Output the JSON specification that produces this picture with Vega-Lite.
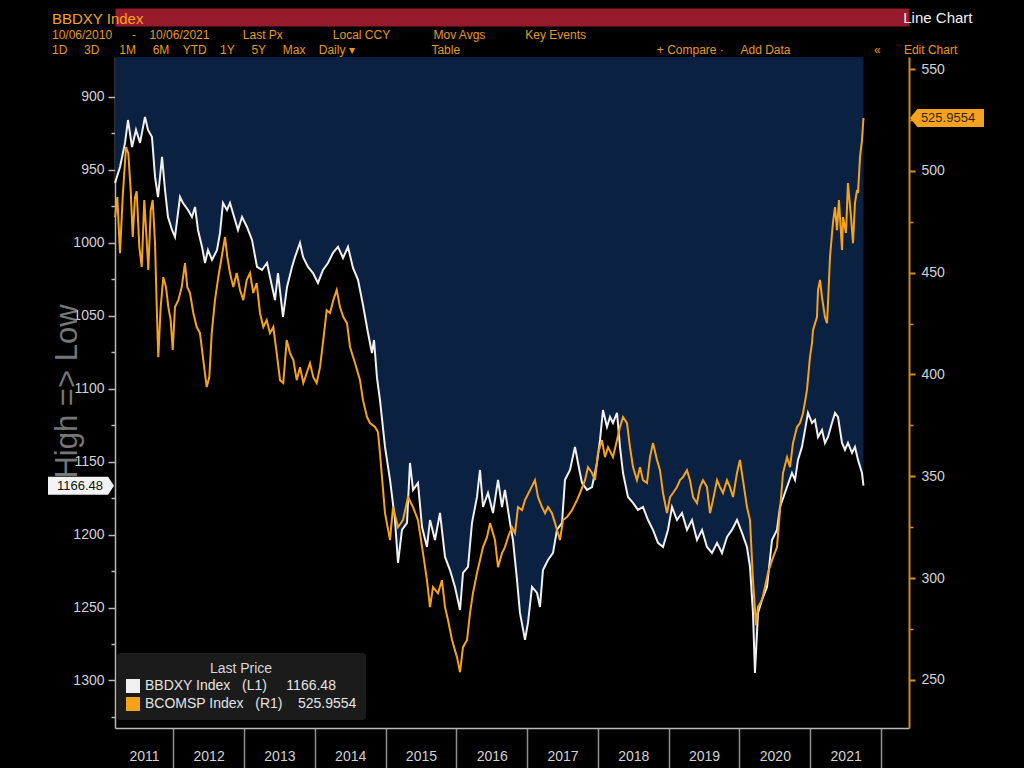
{
  "$schema": "https://vega.github.io/schema/vega-lite/v6.json",
  "width": 794,
  "height": 671,
  "autosize": {"type": "none"},
  "padding": {"left": 115, "top": 57, "right": 115, "bottom": 40},
  "background": "#000000",
  "title": {
    "text": "BBDXY Index",
    "subtitle": [
      "10/06/2010\u00a0\u00a0\u00a0\u00a0\u00a0\u00a0-\u00a0\u00a0\u00a0\u00a010/06/2021\u00a0\u00a0\u00a0\u00a0\u00a0\u00a0\u00a0\u00a0\u00a0\u00a0Last Px\u00a0\u00a0\u00a0\u00a0\u00a0\u00a0\u00a0\u00a0\u00a0\u00a0\u00a0\u00a0\u00a0\u00a0\u00a0Local CCY\u00a0\u00a0\u00a0\u00a0\u00a0\u00a0\u00a0\u00a0\u00a0\u00a0\u00a0\u00a0\u00a0Mov Avgs\u00a0\u00a0\u00a0\u00a0\u00a0\u00a0\u00a0\u00a0\u00a0\u00a0\u00a0\u00a0Key Events",
      "\u00a0\u00a01D\u00a0\u00a0\u00a0\u00a0\u00a03D\u00a0\u00a0\u00a0\u00a0\u00a0\u00a01M\u00a0\u00a0\u00a0\u00a0\u00a06M\u00a0\u00a0\u00a0\u00a0YTD\u00a0\u00a0\u00a0\u00a01Y\u00a0\u00a0\u00a0\u00a0\u00a05Y\u00a0\u00a0\u00a0\u00a0\u00a0Max\u00a0\u00a0\u00a0\u00a0Daily \u25be\u00a0\u00a0\u00a0\u00a0\u00a0\u00a0\u00a0\u00a0\u00a0\u00a0\u00a0\u00a0\u00a0\u00a0\u00a0\u00a0\u00a0\u00a0\u00a0\u00a0\u00a0\u00a0\u00a0Table\u00a0\u00a0\u00a0\u00a0\u00a0\u00a0\u00a0\u00a0\u00a0\u00a0\u00a0\u00a0\u00a0\u00a0\u00a0\u00a0\u00a0\u00a0\u00a0\u00a0\u00a0\u00a0\u00a0\u00a0\u00a0\u00a0\u00a0\u00a0\u00a0\u00a0\u00a0\u00a0\u00a0\u00a0\u00a0\u00a0\u00a0\u00a0\u00a0\u00a0\u00a0\u00a0\u00a0\u00a0\u00a0\u00a0\u00a0\u00a0\u00a0\u00a0\u00a0\u00a0\u00a0\u00a0\u00a0\u00a0\u00a0\u00a0\u00a0+ Compare \u00b7\u00a0\u00a0\u00a0\u00a0\u00a0Add Data\u00a0\u00a0\u00a0\u00a0\u00a0\u00a0\u00a0\u00a0\u00a0\u00a0\u00a0\u00a0\u00a0\u00a0\u00a0\u00a0\u00a0\u00a0\u00a0\u00a0\u00a0\u00a0\u00a0\u00a0\u00a0\u00ab\u00a0\u00a0\u00a0\u00a0\u00a0\u00a0\u00a0Edit Chart"
    ],
    "anchor": "start",
    "frame": "group",
    "dx": -63,
    "offset": -46,
    "zindex": 1,
    "font": "Liberation Sans",
    "fontSize": 15,
    "fontWeight": "normal",
    "color": "#f5a31e",
    "subtitleFont": "Liberation Sans",
    "subtitleFontSize": 12,
    "subtitleColor": "#e39a26",
    "subtitleLineHeight": 15,
    "subtitlePadding": 3
  },
  "config": {
    "view": {"stroke": null},
    "font": "Liberation Sans",
    "axis": {"labelFont": "Liberation Sans", "titleFont": "Liberation Sans", "grid": false}
  },
  "datasets": {
    "bbdxy": [
      {"year":2011.178,"bbdxy":958.9},{"year":2011.248,"bbdxy":948.0},{"year":2011.319,"bbdxy":931.5},{"year":2011.361,"bbdxy":915.8},
      {"year":2011.418,"bbdxy":934.3},{"year":2011.474,"bbdxy":922.6},{"year":2011.531,"bbdxy":931.5},{"year":2011.601,"bbdxy":913.7},
      {"year":2011.644,"bbdxy":922.6},{"year":2011.700,"bbdxy":927.4},{"year":2011.743,"bbdxy":954.8},{"year":2011.785,"bbdxy":968.6},
      {"year":2011.842,"bbdxy":941.1},{"year":2011.884,"bbdxy":963.8},{"year":2011.926,"bbdxy":982.3},{"year":2011.983,"bbdxy":991.2},
      {"year":2012.025,"bbdxy":996.0},{"year":2012.096,"bbdxy":968.6},{"year":2012.138,"bbdxy":972.7},{"year":2012.209,"bbdxy":977.5},
      {"year":2012.265,"bbdxy":982.3},{"year":2012.308,"bbdxy":975.4},{"year":2012.350,"bbdxy":991.2},{"year":2012.407,"bbdxy":1002.8},
      {"year":2012.449,"bbdxy":1013.8},{"year":2012.491,"bbdxy":1004.9},{"year":2012.548,"bbdxy":1011.7},{"year":2012.619,"bbdxy":1004.9},
      {"year":2012.661,"bbdxy":993.2},{"year":2012.703,"bbdxy":972.7},{"year":2012.760,"bbdxy":977.5},{"year":2012.802,"bbdxy":972.7},
      {"year":2012.873,"bbdxy":984.3},{"year":2012.915,"bbdxy":991.2},{"year":2012.972,"bbdxy":982.3},{"year":2013.042,"bbdxy":989.1},
      {"year":2013.113,"bbdxy":998.0},{"year":2013.184,"bbdxy":1016.5},{"year":2013.254,"bbdxy":1018.6},{"year":2013.325,"bbdxy":1013.8},
      {"year":2013.367,"bbdxy":1023.4},{"year":2013.438,"bbdxy":1039.2},{"year":2013.480,"bbdxy":1020.7},{"year":2013.551,"bbdxy":1050.8},
      {"year":2013.608,"bbdxy":1030.2},{"year":2013.678,"bbdxy":1016.5},{"year":2013.721,"bbdxy":1009.7},{"year":2013.791,"bbdxy":1000.1},
      {"year":2013.834,"bbdxy":1009.7},{"year":2013.904,"bbdxy":1016.5},{"year":2013.975,"bbdxy":1020.7},{"year":2014.045,"bbdxy":1027.5},
      {"year":2014.116,"bbdxy":1018.6},{"year":2014.187,"bbdxy":1013.8},{"year":2014.257,"bbdxy":1006.9},{"year":2014.328,"bbdxy":1002.8},
      {"year":2014.399,"bbdxy":1010.4},{"year":2014.469,"bbdxy":1002.8},{"year":2014.540,"bbdxy":1017.2},{"year":2014.611,"bbdxy":1025.4},
      {"year":2014.681,"bbdxy":1042.6},{"year":2014.752,"bbdxy":1061.8},{"year":2014.808,"bbdxy":1075.5},{"year":2014.837,"bbdxy":1066.6},
      {"year":2014.879,"bbdxy":1092.6},{"year":2014.921,"bbdxy":1107.7},{"year":2014.992,"bbdxy":1139.9},{"year":2015.063,"bbdxy":1162.5},
      {"year":2015.133,"bbdxy":1190.0},{"year":2015.176,"bbdxy":1219.4},{"year":2015.232,"bbdxy":1196.8},{"year":2015.303,"bbdxy":1192.0},
      {"year":2015.345,"bbdxy":1150.9},{"year":2015.388,"bbdxy":1169.4},{"year":2015.458,"bbdxy":1164.6},{"year":2015.515,"bbdxy":1194.8},
      {"year":2015.585,"bbdxy":1208.5},{"year":2015.628,"bbdxy":1190.0},{"year":2015.698,"bbdxy":1203.7},{"year":2015.769,"bbdxy":1185.2},
      {"year":2015.840,"bbdxy":1215.3},{"year":2015.910,"bbdxy":1224.3},{"year":2015.981,"bbdxy":1235.9},{"year":2016.052,"bbdxy":1251.7},
      {"year":2016.094,"bbdxy":1226.3},{"year":2016.165,"bbdxy":1222.2},{"year":2016.221,"bbdxy":1192.0},{"year":2016.292,"bbdxy":1174.2},
      {"year":2016.334,"bbdxy":1155.7},{"year":2016.377,"bbdxy":1181.1},{"year":2016.447,"bbdxy":1171.5},{"year":2016.518,"bbdxy":1185.2},
      {"year":2016.589,"bbdxy":1162.5},{"year":2016.645,"bbdxy":1181.1},{"year":2016.687,"bbdxy":1169.4},{"year":2016.758,"bbdxy":1192.0},
      {"year":2016.800,"bbdxy":1203.7},{"year":2016.857,"bbdxy":1231.1},{"year":2016.899,"bbdxy":1253.7},{"year":2016.970,"bbdxy":1272.2},
      {"year":2017.012,"bbdxy":1260.6},{"year":2017.069,"bbdxy":1235.9},{"year":2017.140,"bbdxy":1240.0},{"year":2017.182,"bbdxy":1249.6},
      {"year":2017.224,"bbdxy":1224.3},{"year":2017.295,"bbdxy":1217.4},{"year":2017.366,"bbdxy":1212.6},{"year":2017.422,"bbdxy":1196.8},
      {"year":2017.493,"bbdxy":1192.0},{"year":2017.535,"bbdxy":1162.5},{"year":2017.606,"bbdxy":1155.7},{"year":2017.676,"bbdxy":1139.9},
      {"year":2017.719,"bbdxy":1150.9},{"year":2017.775,"bbdxy":1164.6},{"year":2017.846,"bbdxy":1169.4},{"year":2017.917,"bbdxy":1167.4},
      {"year":2017.987,"bbdxy":1150.9},{"year":2018.030,"bbdxy":1135.1},{"year":2018.072,"bbdxy":1114.6},{"year":2018.128,"bbdxy":1126.2},
      {"year":2018.171,"bbdxy":1119.4},{"year":2018.213,"bbdxy":1123.5},{"year":2018.270,"bbdxy":1116.6},{"year":2018.312,"bbdxy":1139.9},
      {"year":2018.355,"bbdxy":1157.8},{"year":2018.425,"bbdxy":1174.2},{"year":2018.496,"bbdxy":1178.3},{"year":2018.566,"bbdxy":1183.1},
      {"year":2018.637,"bbdxy":1181.1},{"year":2018.708,"bbdxy":1190.0},{"year":2018.778,"bbdxy":1196.8},{"year":2018.849,"bbdxy":1205.7},
      {"year":2018.920,"bbdxy":1208.5},{"year":2018.990,"bbdxy":1196.8},{"year":2019.047,"bbdxy":1181.1},{"year":2019.117,"bbdxy":1190.0},
      {"year":2019.188,"bbdxy":1185.2},{"year":2019.259,"bbdxy":1196.8},{"year":2019.329,"bbdxy":1190.0},{"year":2019.400,"bbdxy":1203.7},
      {"year":2019.471,"bbdxy":1196.8},{"year":2019.541,"bbdxy":1208.5},{"year":2019.612,"bbdxy":1212.6},{"year":2019.683,"bbdxy":1205.7},
      {"year":2019.753,"bbdxy":1212.6},{"year":2019.824,"bbdxy":1201.6},{"year":2019.894,"bbdxy":1196.8},{"year":2019.965,"bbdxy":1190.0},
      {"year":2020.036,"bbdxy":1198.9},{"year":2020.106,"bbdxy":1208.5},{"year":2020.149,"bbdxy":1222.2},{"year":2020.191,"bbdxy":1253.7},
      {"year":2020.219,"bbdxy":1294.9},{"year":2020.262,"bbdxy":1253.7},{"year":2020.318,"bbdxy":1244.8},{"year":2020.389,"bbdxy":1235.9},
      {"year":2020.460,"bbdxy":1203.7},{"year":2020.530,"bbdxy":1196.8},{"year":2020.573,"bbdxy":1181.1},{"year":2020.672,"bbdxy":1167.4},
      {"year":2020.742,"bbdxy":1157.8},{"year":2020.785,"bbdxy":1162.5},{"year":2020.827,"bbdxy":1148.8},{"year":2020.883,"bbdxy":1139.9},
      {"year":2020.926,"bbdxy":1128.3},{"year":2020.968,"bbdxy":1116.6},{"year":2021.025,"bbdxy":1123.5},{"year":2021.067,"bbdxy":1121.4},
      {"year":2021.110,"bbdxy":1133.1},{"year":2021.166,"bbdxy":1128.3},{"year":2021.208,"bbdxy":1137.2},{"year":2021.251,"bbdxy":1133.1},
      {"year":2021.307,"bbdxy":1123.5},{"year":2021.350,"bbdxy":1116.6},{"year":2021.392,"bbdxy":1119.4},{"year":2021.449,"bbdxy":1137.2},
      {"year":2021.491,"bbdxy":1142.0},{"year":2021.533,"bbdxy":1137.2},{"year":2021.590,"bbdxy":1144.0},{"year":2021.632,"bbdxy":1139.9},
      {"year":2021.675,"bbdxy":1148.8},{"year":2021.731,"bbdxy":1157.8},{"year":2021.752,"bbdxy":1166.48}
    ],
    "bcomsp": [
      {"year":2011.178,"bcomsp":477.3},{"year":2011.210,"bcomsp":487.1},{"year":2011.248,"bcomsp":459.6},{"year":2011.286,"bcomsp":487.1},
      {"year":2011.333,"bcomsp":511.7},{"year":2011.365,"bcomsp":508.7},{"year":2011.399,"bcomsp":490.6},{"year":2011.428,"bcomsp":467.5},
      {"year":2011.460,"bcomsp":487.1},{"year":2011.484,"bcomsp":490.0},{"year":2011.521,"bcomsp":462.6},{"year":2011.555,"bcomsp":452.8},
      {"year":2011.591,"bcomsp":485.7},{"year":2011.625,"bcomsp":466.0},{"year":2011.648,"bcomsp":451.3},{"year":2011.682,"bcomsp":480.7},
      {"year":2011.710,"bcomsp":485.7},{"year":2011.743,"bcomsp":464.5},{"year":2011.767,"bcomsp":433.1},{"year":2011.789,"bcomsp":408.5},
      {"year":2011.823,"bcomsp":433.1},{"year":2011.860,"bcomsp":447.8},{"year":2011.898,"bcomsp":442.9},{"year":2011.931,"bcomsp":433.1},
      {"year":2011.964,"bcomsp":426.7},{"year":2011.993,"bcomsp":412.0},{"year":2012.025,"bcomsp":433.1},{"year":2012.072,"bcomsp":436.5},
      {"year":2012.120,"bcomsp":442.9},{"year":2012.166,"bcomsp":454.7},{"year":2012.199,"bcomsp":442.9},{"year":2012.237,"bcomsp":440.0},
      {"year":2012.284,"bcomsp":430.2},{"year":2012.332,"bcomsp":423.3},{"year":2012.378,"bcomsp":420.3},{"year":2012.425,"bcomsp":407.1},
      {"year":2012.473,"bcomsp":393.8},{"year":2012.510,"bcomsp":398.7},{"year":2012.544,"bcomsp":420.3},{"year":2012.590,"bcomsp":436.5},
      {"year":2012.637,"bcomsp":447.8},{"year":2012.685,"bcomsp":457.7},{"year":2012.732,"bcomsp":467.5},{"year":2012.764,"bcomsp":457.7},
      {"year":2012.802,"bcomsp":449.8},{"year":2012.849,"bcomsp":442.9},{"year":2012.897,"bcomsp":449.8},{"year":2012.944,"bcomsp":441.5},
      {"year":2012.990,"bcomsp":436.5},{"year":2013.038,"bcomsp":446.4},{"year":2013.085,"bcomsp":449.8},{"year":2013.131,"bcomsp":440.0},
      {"year":2013.179,"bcomsp":444.9},{"year":2013.226,"bcomsp":430.2},{"year":2013.273,"bcomsp":423.3},{"year":2013.321,"bcomsp":426.7},
      {"year":2013.367,"bcomsp":420.3},{"year":2013.414,"bcomsp":423.3},{"year":2013.462,"bcomsp":410.5},{"year":2013.509,"bcomsp":397.2},
      {"year":2013.555,"bcomsp":395.8},{"year":2013.603,"bcomsp":416.9},{"year":2013.650,"bcomsp":410.5},{"year":2013.697,"bcomsp":407.1},
      {"year":2013.745,"bcomsp":397.2},{"year":2013.791,"bcomsp":403.6},{"year":2013.838,"bcomsp":395.8},{"year":2013.886,"bcomsp":400.7},
      {"year":2013.932,"bcomsp":405.6},{"year":2013.979,"bcomsp":398.7},{"year":2014.027,"bcomsp":395.8},{"year":2014.074,"bcomsp":403.6},
      {"year":2014.120,"bcomsp":416.9},{"year":2014.168,"bcomsp":431.6},{"year":2014.215,"bcomsp":430.2},{"year":2014.262,"bcomsp":436.5},
      {"year":2014.310,"bcomsp":441.5},{"year":2014.356,"bcomsp":433.1},{"year":2014.403,"bcomsp":428.2},{"year":2014.455,"bcomsp":425.2},
      {"year":2014.498,"bcomsp":413.5},{"year":2014.568,"bcomsp":405.6},{"year":2014.639,"bcomsp":397.2},{"year":2014.681,"bcomsp":387.4},
      {"year":2014.738,"bcomsp":379.1},{"year":2014.780,"bcomsp":376.1},{"year":2014.851,"bcomsp":374.2},{"year":2014.893,"bcomsp":371.7},
      {"year":2014.921,"bcomsp":361.4},{"year":2014.992,"bcomsp":331.9},{"year":2015.063,"bcomsp":318.7},{"year":2015.105,"bcomsp":334.9},
      {"year":2015.176,"bcomsp":325.0},{"year":2015.246,"bcomsp":328.5},{"year":2015.317,"bcomsp":339.8},{"year":2015.388,"bcomsp":334.9},
      {"year":2015.458,"bcomsp":328.5},{"year":2015.529,"bcomsp":312.3},{"year":2015.585,"bcomsp":299.0},{"year":2015.628,"bcomsp":285.8},
      {"year":2015.670,"bcomsp":295.6},{"year":2015.741,"bcomsp":292.6},{"year":2015.797,"bcomsp":299.0},{"year":2015.840,"bcomsp":285.8},
      {"year":2015.882,"bcomsp":279.4},{"year":2015.939,"bcomsp":269.6},{"year":2016.009,"bcomsp":261.2},{"year":2016.052,"bcomsp":253.8},
      {"year":2016.094,"bcomsp":266.1},{"year":2016.151,"bcomsp":269.6},{"year":2016.193,"bcomsp":282.8},{"year":2016.235,"bcomsp":292.6},
      {"year":2016.292,"bcomsp":302.5},{"year":2016.334,"bcomsp":308.8},{"year":2016.377,"bcomsp":315.2},{"year":2016.433,"bcomsp":320.1},
      {"year":2016.476,"bcomsp":327.0},{"year":2016.546,"bcomsp":318.7},{"year":2016.589,"bcomsp":305.4},{"year":2016.645,"bcomsp":312.3},
      {"year":2016.687,"bcomsp":315.2},{"year":2016.730,"bcomsp":320.1},{"year":2016.786,"bcomsp":325.0},{"year":2016.829,"bcomsp":322.1},
      {"year":2016.871,"bcomsp":334.9},{"year":2016.928,"bcomsp":333.4},{"year":2016.970,"bcomsp":338.3},{"year":2017.041,"bcomsp":343.2},
      {"year":2017.111,"bcomsp":348.1},{"year":2017.154,"bcomsp":339.8},{"year":2017.210,"bcomsp":334.9},{"year":2017.253,"bcomsp":331.9},
      {"year":2017.295,"bcomsp":334.9},{"year":2017.351,"bcomsp":331.9},{"year":2017.394,"bcomsp":327.0},{"year":2017.464,"bcomsp":318.7},
      {"year":2017.507,"bcomsp":328.5},{"year":2017.563,"bcomsp":330.0},{"year":2017.634,"bcomsp":333.4},{"year":2017.705,"bcomsp":338.3},
      {"year":2017.747,"bcomsp":341.8},{"year":2017.818,"bcomsp":348.1},{"year":2017.860,"bcomsp":354.5},{"year":2017.917,"bcomsp":351.6},
      {"year":2017.959,"bcomsp":348.1},{"year":2018.001,"bcomsp":361.4},{"year":2018.058,"bcomsp":367.8},{"year":2018.100,"bcomsp":359.4},
      {"year":2018.143,"bcomsp":364.3},{"year":2018.213,"bcomsp":359.4},{"year":2018.270,"bcomsp":367.8},{"year":2018.312,"bcomsp":374.2},
      {"year":2018.355,"bcomsp":379.1},{"year":2018.411,"bcomsp":376.1},{"year":2018.453,"bcomsp":364.3},{"year":2018.496,"bcomsp":354.5},
      {"year":2018.552,"bcomsp":348.1},{"year":2018.595,"bcomsp":354.5},{"year":2018.637,"bcomsp":348.1},{"year":2018.694,"bcomsp":346.7},
      {"year":2018.736,"bcomsp":359.4},{"year":2018.778,"bcomsp":366.3},{"year":2018.835,"bcomsp":358.0},{"year":2018.877,"bcomsp":353.0},
      {"year":2018.920,"bcomsp":341.8},{"year":2018.976,"bcomsp":331.9},{"year":2019.019,"bcomsp":339.8},{"year":2019.061,"bcomsp":341.8},
      {"year":2019.117,"bcomsp":344.7},{"year":2019.160,"bcomsp":348.1},{"year":2019.202,"bcomsp":349.6},{"year":2019.259,"bcomsp":353.0},
      {"year":2019.301,"bcomsp":348.1},{"year":2019.344,"bcomsp":339.8},{"year":2019.400,"bcomsp":336.8},{"year":2019.442,"bcomsp":344.7},
      {"year":2019.485,"bcomsp":348.1},{"year":2019.541,"bcomsp":344.7},{"year":2019.584,"bcomsp":331.9},{"year":2019.626,"bcomsp":338.3},
      {"year":2019.683,"bcomsp":348.1},{"year":2019.725,"bcomsp":344.7},{"year":2019.767,"bcomsp":341.8},{"year":2019.824,"bcomsp":348.1},
      {"year":2019.866,"bcomsp":344.7},{"year":2019.909,"bcomsp":339.8},{"year":2019.965,"bcomsp":351.6},{"year":2020.007,"bcomsp":358.0},
      {"year":2020.050,"bcomsp":348.1},{"year":2020.106,"bcomsp":334.9},{"year":2020.149,"bcomsp":328.5},{"year":2020.191,"bcomsp":299.0},
      {"year":2020.234,"bcomsp":276.9},{"year":2020.262,"bcomsp":285.8},{"year":2020.318,"bcomsp":289.2},{"year":2020.361,"bcomsp":295.6},
      {"year":2020.403,"bcomsp":302.5},{"year":2020.460,"bcomsp":308.8},{"year":2020.530,"bcomsp":315.2},{"year":2020.573,"bcomsp":333.4},
      {"year":2020.615,"bcomsp":351.6},{"year":2020.672,"bcomsp":359.4},{"year":2020.714,"bcomsp":354.5},{"year":2020.756,"bcomsp":366.3},
      {"year":2020.813,"bcomsp":374.2},{"year":2020.855,"bcomsp":376.1},{"year":2020.898,"bcomsp":381.0},{"year":2020.954,"bcomsp":392.3},
      {"year":2020.996,"bcomsp":408.5},{"year":2021.025,"bcomsp":415.4},{"year":2021.039,"bcomsp":421.8},{"year":2021.095,"bcomsp":428.2},
      {"year":2021.110,"bcomsp":441.5},{"year":2021.138,"bcomsp":446.4},{"year":2021.166,"bcomsp":438.0},{"year":2021.208,"bcomsp":428.2},
      {"year":2021.237,"bcomsp":425.2},{"year":2021.251,"bcomsp":435.1},{"year":2021.279,"bcomsp":457.7},{"year":2021.321,"bcomsp":474.4},
      {"year":2021.350,"bcomsp":482.2},{"year":2021.378,"bcomsp":470.9},{"year":2021.406,"bcomsp":485.7},{"year":2021.449,"bcomsp":461.1},
      {"year":2021.463,"bcomsp":477.3},{"year":2021.505,"bcomsp":469.5},{"year":2021.533,"bcomsp":494.0},{"year":2021.576,"bcomsp":477.3},
      {"year":2021.604,"bcomsp":464.5},{"year":2021.632,"bcomsp":484.2},{"year":2021.661,"bcomsp":490.6},{"year":2021.675,"bcomsp":489.1},
      {"year":2021.703,"bcomsp":506.8},{"year":2021.731,"bcomsp":515.1},{"year":2021.752,"bcomsp":525.9554}
    ]
  },
  "resolve": {"scale": {"y": "independent"}, "axis": {"x": "independent", "y": "independent"}},
  "layer": [
    {
      "data": {"name": "bbdxy"},
      "resolve": {"axis": {"x": "independent", "y": "independent"}},
      "layer": [
        {
          "mark": {"type": "area", "color": "#0b2141", "opacity": 1},
          "encoding": {
            "x": {"field": "year", "type": "quantitative", "title": null,
                  "scale": {"domain": [2011.1774, 2022.3953], "nice": false, "zero": false},
                  "axis": {"orient": "bottom", "values": [2012,2013,2014,2015,2016,2017,2018,2019,2020,2021,2022],
                           "labels": false, "ticks": true, "tickSize": 40, "tickColor": "#8f8f8f", "tickWidth": 1.5,
                           "domain": true, "domainColor": "#b8b8b8", "domainWidth": 1.5, "title": null, "grid": false}},
            "y": {"field": "bbdxy", "type": "quantitative",
                  "scale": {"domain": [872.6, 1332.6], "reverse": true, "nice": false, "zero": false},
                  "axis": {"orient": "left", "values": [900,950,1000,1050,1100,1150,1200,1250,1300], "format": "d",
                           "tickSize": 7, "tickColor": "#b8b8b8", "tickWidth": 1.5,
                           "domainColor": "#b8b8b8", "domainWidth": 1.5,
                           "labelColor": "#d2d2d2", "labelFontSize": 14, "labelPadding": 4,
                           "title": "High => Low", "titleColor": "#8c8c8c", "titleOpacity": 0.85, "titleFontSize": 31,
                           "titleFontWeight": "normal", "titleAngle": -90, "titleX": -48, "titleY": 334,
                           "titleAlign": "center", "titleBaseline": "middle"}},
            "y2": {"datum": 872.6}
          }
        },
        {
          "mark": {"type": "line", "strokeWidth": 2},
          "encoding": {
            "x": {"field": "year", "type": "quantitative", "title": null,
                  "axis": {"orient": "top", "offset": 40, "domain": true, "domainColor": "#951a2a", "domainWidth": 18,
                           "ticks": false, "labels": false, "grid": false,
                           "title": "Line Chart", "titleColor": "#f2f2f2", "titleFontSize": 15, "titleFontWeight": "normal",
                           "titleX": 857, "titleY": 0, "titleAlign": "right", "titleBaseline": "middle", "titleAngle": 0}},
            "y": {"field": "bbdxy", "type": "quantitative",
                  "axis": {"orient": "left", "values": [925,975,1025,1075,1125,1175,1225,1275,1325],
                           "labels": false, "domain": false, "tickSize": 4, "tickColor": "#b8b8b8", "tickWidth": 1.5,
                           "title": null, "grid": false}},
            "color": {"datum": "BBDXY Index", "type": "nominal",
                      "scale": {"domain": ["BBDXY Index", "BCOMSP Index"], "range": ["#f0f0f0", "#f5a31e"]},
                      "legend": {
                        "orient": "none", "legendX": 2, "legendY": 596,
                        "title": "Last Price", "titleAnchor": "middle", "titleColor": "#d8d8d8", "titleFontSize": 14,
                        "titleFontWeight": "normal", "titleFont": "Liberation Sans", "titlePadding": 3,
                        "fillColor": "#1b1b1b", "padding": 9, "cornerRadius": 3,
                        "symbolType": "square", "symbolSize": 196, "symbolStrokeWidth": 0, "symbolOpacity": 1,
                        "labelColor": "#e4e4e4", "labelFontSize": 14, "labelFont": "Liberation Sans", "labelOffset": 5,
                        "labelLimit": 400, "rowPadding": 4,
                        "labelExpr": "datum.value === 'BBDXY Index' ? 'BBDXY Index\u00a0\u00a0\u00a0(L1)\u00a0\u00a0\u00a0\u00a0\u00a01166.48' : 'BCOMSP Index\u00a0\u00a0\u00a0(R1)\u00a0\u00a0\u00a0\u00a0525.9554'",
                        "encode": {"symbols": {"update": {"fill": {"scale": "color", "field": "value"}, "stroke": {"value": "transparent"}, "opacity": {"value": 1}}}}
                      }}
          }
        },
        {
          "transform": [{"filter": "datum.year >= 2021.75"}],
          "mark": {"type": "point", "shape": "M-1,-0.273L0.82,-0.273L1,0L0.82,0.273L-1,0.273Z", "size": 4356,
                   "filled": true, "fill": "#f4f4f4", "strokeWidth": 0, "opacity": 1, "xOffset": -34},
          "encoding": {
            "x": {"datum": 2011.1774, "type": "quantitative", "axis": null},
            "y": {"field": "bbdxy", "type": "quantitative", "axis": null}
          }
        },
        {
          "transform": [{"filter": "datum.year >= 2021.75"}],
          "mark": {"type": "text", "dx": -35, "align": "center", "baseline": "middle", "fontSize": 13,
                   "font": "Liberation Sans", "color": "#111111"},
          "encoding": {
            "x": {"datum": 2011.1774, "type": "quantitative", "axis": null},
            "y": {"field": "bbdxy", "type": "quantitative", "axis": null},
            "text": {"field": "bbdxy", "type": "quantitative", "format": ".2f"}
          }
        }
      ]
    },
    {
      "data": {"name": "bcomsp"},
      "resolve": {"axis": {"x": "independent", "y": "independent"}},
      "layer": [
        {
          "mark": {"type": "line", "strokeWidth": 2},
          "encoding": {
            "x": {"field": "year", "type": "quantitative", "title": null,
                  "axis": {"orient": "bottom", "values": [2011.587,2012.5,2013.5,2014.5,2015.5,2016.5,2017.5,2018.5,2019.5,2020.5,2021.5],
                           "labelExpr": "'' + floor(datum.value)", "ticks": false, "domain": false, "grid": false,
                           "labelColor": "#d2d2d2", "labelFontSize": 14, "labelPadding": 21, "labelFlush": false,
                           "labelOverlap": false, "title": null}},
            "y": {"field": "bcomsp", "type": "quantitative",
                  "scale": {"domain": [226.4, 555.9], "nice": false, "zero": false},
                  "axis": {"orient": "right", "values": [250,300,350,400,450,500,550], "format": "d",
                           "tickSize": 6, "tickColor": "#d8901c", "tickWidth": 2,
                           "domainColor": "#c98a22", "domainWidth": 2,
                           "labelColor": "#d2d2d2", "labelFontSize": 14, "labelPadding": 6, "title": null, "grid": false}},
            "color": {"datum": "BCOMSP Index", "type": "nominal"}
          }
        },
        {
          "transform": [{"filter": "datum.year >= 2021.75"}],
          "mark": {"type": "point", "shape": "M1,-0.243L-0.8,-0.243L-1,0L-0.8,0.243L1,0.243Z", "size": 5476,
                   "filled": true, "fill": "#f5a31e", "strokeWidth": 0, "opacity": 1, "xOffset": 38},
          "encoding": {
            "x": {"datum": 2022.3953, "type": "quantitative", "axis": null},
            "y": {"field": "bcomsp", "type": "quantitative",
                  "axis": {"orient": "right", "values": [275,325,375,425,475,525],
                           "labels": false, "domain": false, "tickSize": 4, "tickColor": "#d8901c", "tickWidth": 1.5,
                           "title": null, "grid": false}}
          }
        },
        {
          "transform": [{"filter": "datum.year >= 2021.75"}],
          "mark": {"type": "text", "dx": 39, "align": "center", "baseline": "middle", "fontSize": 13,
                   "font": "Liberation Sans", "color": "#3a2406"},
          "encoding": {
            "x": {"datum": 2022.3953, "type": "quantitative", "axis": null},
            "y": {"field": "bcomsp", "type": "quantitative", "axis": null},
            "text": {"field": "bcomsp", "type": "quantitative", "format": ".4f"}
          }
        }
      ]
    }
  ]
}
